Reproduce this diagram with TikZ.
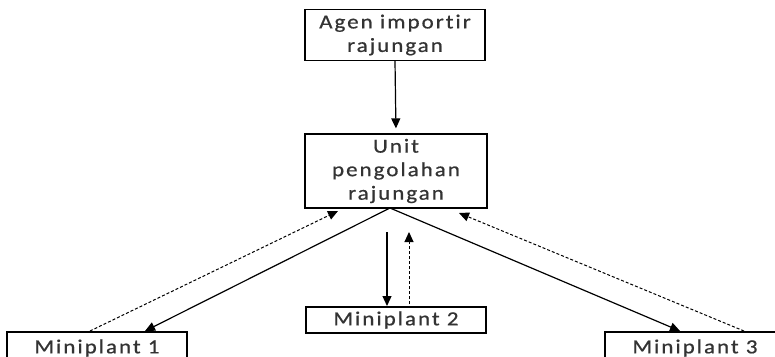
\documentclass[tikz,border=0pt]{standalone}
\usepackage{fontspec}
\setmainfont{Carlito}[FakeStretch=1.15,FakeBold=0.7,LetterSpace=10,Ligatures={NoCommon,NoRequired,NoContextual}]
\usetikzlibrary{arrows.meta}
\begin{document}
\begin{tikzpicture}[x=1pt,y=-1pt,
  box/.style={draw,line width=1.2pt,inner sep=0pt,align=center,text=black!80,
    font=\fontsize{20}{23.5}\selectfont},
  solidarrow/.style={line width=1.2pt,-{Triangle[length=10pt,width=9pt]}},
  dasharrow/.style={line width=1pt,dash pattern=on 3pt off 2pt,-{Triangle[length=10pt,width=9pt]}}]
\useasboundingbox (0,0) rectangle (775,356);
\clip (0,0) rectangle (775,356);
\node[box,minimum width=180pt,minimum height=51pt] (agen) at (395,35) {Agen importir\\rajungan};
\node[box,minimum width=182pt,minimum height=74pt] (unit) at (396,171) {Unit\\pengolahan\\rajungan};
\node[box,minimum width=180pt,minimum height=26pt] (m2) at (396,320) {Miniplant 2};
\node[box,minimum width=180pt,minimum height=32pt] (m1) at (97,348) {Miniplant 1};
\node[box,minimum width=180pt,minimum height=32pt] (m3) at (695,348) {Miniplant 3};
\coordinate (hub) at (390,208);
\coordinate (m1in) at (145,331);
\coordinate (m1out) at (90,331);
\coordinate (u1) at (338,211);
\coordinate (m3in) at (680,331);
\coordinate (m3out) at (744,331);
\coordinate (u3) at (459,213);
\coordinate (v1a) at (387,232);
\coordinate (v1b) at (387,306);
\coordinate (v2a) at (409,304);
\coordinate (v2b) at (409,232);
\draw[solidarrow,shorten >=5pt] (agen.south) -- (unit.north);
\draw[solidarrow] (hub) -- (m1in);
\draw[solidarrow] (hub) -- (m3in);
\draw[dasharrow] (m1out) -- (u1);
\draw[dasharrow] (m3out) -- (u3);
\draw[solidarrow] (v1a) -- (v1b);
\draw[dasharrow] (v2a) -- (v2b);
\end{tikzpicture}
\end{document}
